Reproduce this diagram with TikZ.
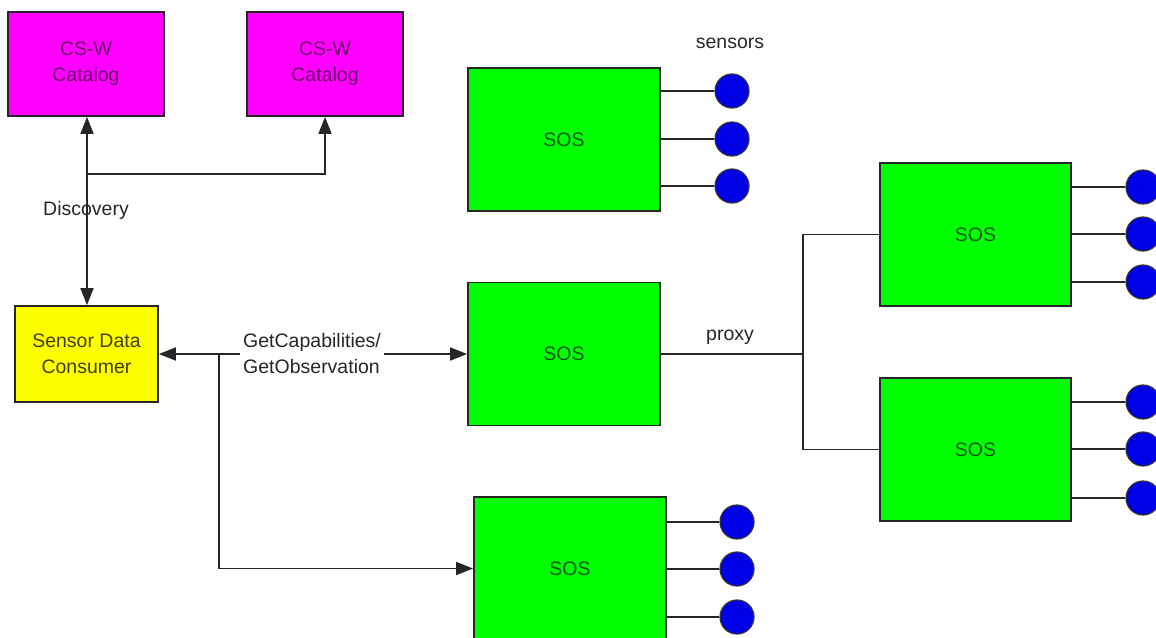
\documentclass[tikz,border=0pt]{standalone}
\usepackage{fontspec}
\setmainfont{Liberation Sans}
\usetikzlibrary{arrows.meta}
\definecolor{magbox}{HTML}{FF00FF}
\definecolor{yelbox}{HTML}{FFFF00}
\definecolor{grnbox}{HTML}{00FF00}
\definecolor{sensblue}{HTML}{0000E6}
\definecolor{purtext}{HTML}{6A006A}
\definecolor{olvtext}{HTML}{404000}
\definecolor{grntext}{HTML}{005A00}
\definecolor{lbltext}{HTML}{262626}
\begin{document}
\begin{tikzpicture}[x=1pt,y=-1pt,
  font=\fontsize{19.5}{26}\selectfont,
  box/.style={draw=black!85, line width=1.8pt, align=center, inner sep=0pt},
  catbox/.style={box, fill=magbox, text=purtext, minimum width=156pt, minimum height=104pt},
  consbox/.style={box, fill=yelbox, text=olvtext, minimum width=143pt, minimum height=96pt},
  sosbox/.style={box, fill=grnbox, text=grntext, minimum width=192pt, minimum height=143pt},
  sensor/.style={circle, draw=black!80, line width=1.2pt, fill=sensblue, minimum size=34pt, inner sep=0pt},
  conn/.style={draw=black!85, line width=1.8pt},
  tip/.tip={Triangle[length=17pt,width=13pt]},
  arr/.style={conn, -tip},
  lbl/.style={text=lbltext, inner sep=1pt}]
\useasboundingbox (0,0) rectangle (1156,637);

% boxes
\node[catbox] (cat1) at (86,64) {CS-W\\Catalog};
\node[catbox] (cat2) at (325,64) {CS-W\\Catalog};
\node[consbox] (cons) at (86.5,354) {Sensor Data\\Consumer};
\node[sosbox] (sost) at (564,139.5) {SOS};
\node[sosbox] (sosm) at (564,354) {SOS};
\node[sosbox] (sosb) at (570,568.5) {SOS};
\node[sosbox, minimum width=191pt] (sosr1) at (975.5,234.5) {SOS};
\node[sosbox, minimum width=191pt] (sosr2) at (975.5,449.5) {SOS};

% sensors
\foreach \n/\x/\y/\b in {t1/732/91/sost, t2/732/139/sost, t3/732/186/sost,
                         b1/737/522/sosb, b2/737/569/sosb, b3/737/617/sosb,
                         r1/1143/187/sosr1, r2/1143/234/sosr1, r3/1143/282/sosr1,
                         q1/1143/402/sosr2, q2/1143/449/sosr2, q3/1143/498/sosr2}{
  \node[sensor] (\n) at (\x,\y) {};
  \draw[conn, line width=1.5pt] (\n.west) -- (\n.west -| \b.east);
}
\node[lbl] (senslbl) at (730,43) {sensors};

% discovery
\coordinate (j1) at (87,174);
\draw[conn, tip-tip] (cat1.south -| j1) -- (cons.north -| j1);
\draw[arr] (j1) -| (cat2.south);
\node[lbl] (disc) at (86,210) {Discovery};

% GetCapabilities / GetObservation
\coordinate (j2) at (219,354);
\draw[arr] (j2) -- (cons.east);
\draw[arr] (j2) -- node[pos=0.375, fill=white, text=lbltext, align=left, inner sep=3pt] (getlbl) {GetCapabilities/\\GetObservation} (sosm.west);
\draw[arr] (j2) |- (sosb.west);

% proxy
\coordinate (j3) at (803,354);
\draw[conn, line width=1.5pt] (sosm.east) -- (j3);
\draw[conn, line width=1.5pt] (j3) |- (sosr1.west);
\draw[conn, line width=1.5pt] (j3) |- (sosr2.west);
\node[lbl] (proxylbl) at (730,337) {proxy};
\end{tikzpicture}
\end{document}
